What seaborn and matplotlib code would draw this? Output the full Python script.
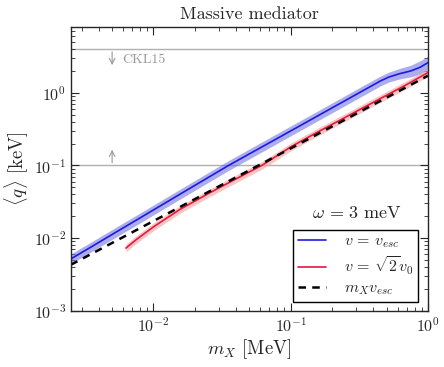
import matplotlib
matplotlib.use("Agg")
import matplotlib.pyplot as plt
import seaborn as sns
import pandas as pd

# ---- data ----
mx_blue = [0.00251, 0.0035, 0.005, 0.0075, 0.011, 0.016, 0.025, 0.035, 0.05, 0.075,
           0.1, 0.15, 0.23, 0.33, 0.45, 0.52, 0.62, 0.75, 0.87, 1.0]
q_blue = [0.0052, 0.00753, 0.01125, 0.0177, 0.0272, 0.0414, 0.0682, 0.0993, 0.1445, 0.221,
          0.299, 0.458, 0.718, 1.05, 1.455, 1.65, 1.83, 2.0, 2.23, 2.6]
q_blue_hi = [0.00608, 0.00881, 0.01316, 0.0207, 0.0318, 0.0484, 0.0798, 0.116, 0.169, 0.259,
             0.350, 0.536, 0.840, 1.23, 1.70, 1.93, 2.16, 2.40, 2.73, 3.2]
q_blue_lo = [0.00445, 0.00644, 0.00962, 0.0151, 0.0233, 0.0354, 0.0583, 0.0849, 0.1235, 0.189,
             0.256, 0.392, 0.614, 0.898, 1.244, 1.41, 1.55, 1.66, 1.80, 2.08]

mx_red = [0.0063, 0.0075, 0.01, 0.0156, 0.025, 0.04, 0.062, 0.1, 0.15, 0.25, 0.4, 0.55, 0.7, 0.85, 1.0]
q_red = [0.0073, 0.00957, 0.0143, 0.0249, 0.0409, 0.0655, 0.101, 0.18, 0.275, 0.46, 0.74, 1.02, 1.3, 1.6, 1.9]
q_red_hi = [0.00825, 0.0108, 0.0162, 0.0281, 0.0462, 0.074, 0.114, 0.203, 0.311, 0.52, 0.836, 1.15, 1.47, 1.81, 2.15]
q_red_lo = [0.00646, 0.00847, 0.01266, 0.0220, 0.0362, 0.058, 0.0894, 0.159, 0.243, 0.407, 0.655, 0.903, 1.15, 1.42, 1.68]

mx_black = [0.0025, 0.01, 0.1, 1.0]
q_black = [0.0043, 0.0172, 0.172, 1.72]

ckl15_upper = 4.0
ckl15_lower = 0.1

labels = [r"$v\,=\,v_{esc}$", r"$v\,=\,\sqrt{2}v_0$", r"$m_X v_{esc}$"]

# ---- style ----
sns.set_style("ticks")
plt.rcParams["font.family"] = ["serif"]
plt.rcParams["font.serif"] = ["cmr10", "DejaVu Serif"]
plt.rcParams["mathtext.fontset"] = "cm"
plt.rcParams["axes.formatter.use_mathtext"] = True
plt.rcParams["axes.unicode_minus"] = False

fig = plt.figure(figsize=(4.44, 3.67), dpi=100)
ax = fig.add_axes([0.160, 0.153, 0.804, 0.773])

blue_line = "#1a1ae0"
blue_band = "#6a6ae0"
red_line = "#e8173f"
red_band = "#f4a09a"

df_b = pd.DataFrame({"mx": mx_blue, "q": q_blue})
df_r = pd.DataFrame({"mx": mx_red, "q": q_red})
df_k = pd.DataFrame({"mx": mx_black, "q": q_black})

ax.fill_between(mx_blue, q_blue_lo, q_blue_hi, color=blue_band, alpha=0.55, lw=0)
ax.fill_between(mx_red, q_red_lo, q_red_hi, color=red_band, alpha=0.6, lw=0)
sns.lineplot(data=df_b, x="mx", y="q", ax=ax, color=blue_line, lw=1.2, label=labels[0])
sns.lineplot(data=df_r, x="mx", y="q", ax=ax, color=red_line, lw=1.2, label=labels[1])
sns.lineplot(data=df_k, x="mx", y="q", ax=ax, color="black", lw=1.8, label=labels[2],
             linestyle=(0, (3, 2.5)))

ax.axhline(ckl15_upper, color="#b0b0b0", lw=1.0, zorder=0)
ax.axhline(ckl15_lower, color="#b0b0b0", lw=1.0, zorder=0)
ax.annotate("", xy=(0.005, 2.2), xytext=(0.005, ckl15_upper),
            arrowprops=dict(arrowstyle="->", color="#999999", lw=0.8))
ax.annotate("", xy=(0.005, 0.18), xytext=(0.005, ckl15_lower),
            arrowprops=dict(arrowstyle="->", color="#999999", lw=0.8))
ax.text(0.0059, 2.8, "CKL15", color="#999999", fontsize=10, va="center", ha="left")

ax.set_xscale("log")
ax.set_yscale("log")
ax.set_xlim(0.00251, 1.0)
ax.set_ylim(1e-3, 8.0)
ax.set_xlabel(r"$m_X$ [MeV]", fontsize=13.5, labelpad=2)
ax.set_ylabel(r"$\langle q\rangle$ [keV]", fontsize=13.5, labelpad=2)
ax.set_title("Massive mediator", fontsize=13, pad=6)

ax.tick_params(which="both", direction="in", top=True, right=True, labelsize=11.5)
ax.tick_params(which="major", length=6, width=0.8)
ax.tick_params(which="minor", length=3, width=0.6)
for s in ax.spines.values():
    s.set_linewidth(1.0)

leg = ax.legend(loc="lower right", bbox_to_anchor=(0.972, 0.032), borderaxespad=0,
                fancybox=False, edgecolor="black", framealpha=1, fontsize=11.5,
                handlelength=1.8, labelspacing=0.25, borderpad=0.3, handletextpad=1.1)
leg.get_frame().set_linewidth(1.0)
ax.text(0.80, 0.345, r"$\omega\,=\,3$ meV", transform=ax.transAxes, ha="center",
        va="center", fontsize=13, zorder=10)

fig.savefig("out.png", dpi=100)
